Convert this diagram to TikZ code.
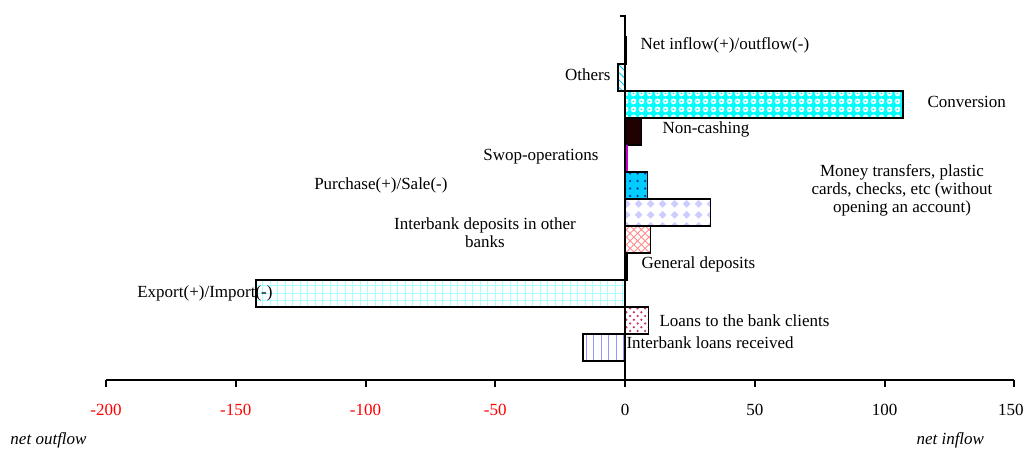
\documentclass[tikz,border=0pt]{standalone}
\usepackage{fontspec}
\setmainfont{Liberation Serif}
\usepackage{tikz}
\usetikzlibrary{patterns,patterns.meta}
\definecolor{stripeblue}{RGB}{0,204,255}
\definecolor{convcyan}{RGB}{0,255,255}
\definecolor{noncashbrown}{RGB}{32,0,0}
\definecolor{swopmagenta}{RGB}{204,0,204}
\definecolor{purchblue}{RGB}{0,204,255}
\definecolor{purchdot}{RGB}{0,51,153}
\definecolor{moneylav}{RGB}{204,204,255}
\definecolor{depored}{RGB}{255,140,140}
\definecolor{exportcyan}{RGB}{170,255,255}
\definecolor{loanspink}{RGB}{204,51,102}
\definecolor{iloanblue}{RGB}{150,150,255}
\definecolor{tickred}{RGB}{255,0,0}

\tikzdeclarepattern{
  name=diamonds,
  type=uncolored,
  bottom left={(0pt,0pt)},
  top right={(4.6pt,4.2pt)},
  tile size={(4.6pt,4.2pt)},
  code={\fill (2.3pt,0.5pt) -- (3.9pt,2.1pt) -- (2.3pt,3.7pt) -- (0.7pt,2.1pt) -- cycle;}
}
\tikzdeclarepattern{
  name=bubbles,
  type=uncolored,
  bottom left={(0pt,0pt)},
  top right={(3pt,3pt)},
  tile size={(3pt,3pt)},
  code={\fill[even odd rule] (1.5pt,1.5pt) circle (1.2pt) (1.5pt,1.5pt) circle (0.5pt);}
}

\tikzset{
  lbl/.style={font=\fontsize{6.8}{7.2}\selectfont, inner sep=0pt},
  bar/.style={draw=black, line width=0.45pt},
  axisline/.style={line width=0.8pt}
}

\begin{document}
\begin{tikzpicture}[x=0.4pt, y=-0.4pt]
  \useasboundingbox (0,0) rectangle (1025,451);

  % bars, value units along x
  \begin{scope}[shift={(625,0)}, x=1.038pt]
    \draw[bar, fill=black] (0,37) rectangle (0.4,64);
    \draw[bar, pattern=north west lines, pattern color=stripeblue] (-2.7,64) rectangle (0,91);
    \draw[bar, preaction={fill=convcyan}, pattern=bubbles, pattern color=white] (0,91) rectangle (107.1,118);
    \draw[bar, fill=noncashbrown] (0,118) rectangle (6.2,145);
    \fill[swopmagenta] (0,145) rectangle (1.0,172);
    \draw[bar, preaction={fill=purchblue}, pattern=dots, pattern color=purchdot] (0,172) rectangle (8.7,199);
    \draw[bar, pattern=diamonds, pattern color=moneylav] (0,199) rectangle (32.9,226);
    \draw[bar, pattern=crosshatch, pattern color=depored] (0,226) rectangle (9.8,253);
    \draw[bar, fill=black] (0,253) rectangle (1.1,280);
    \draw[bar, pattern=grid, pattern color=exportcyan] (-142.2,280) rectangle (0,307);
    \draw[bar, pattern=crosshatch dots, pattern color=loanspink] (0,307) rectangle (9.2,334);
    \draw[bar, pattern=vertical lines, pattern color=iloanblue] (-16.2,334) rectangle (0,361);
  \end{scope}

  % axes
  \draw[axisline] (620,16) -- (625,16) -- (625,380);
  \draw[axisline] (106,380) -- (1014,380);
  \foreach \v in {-200,-150,-100,-50,0,50,100,150}
    \draw[axisline] ({625+2.595*\v},380) -- ({625+2.595*\v},387);
  \foreach \v in {-200,-150,-100,-50}
    \node[lbl, text=tickred] (tick\v) at ({625+2.595*\v},410) {\v};
  \foreach \v in {0,50,100}
    \node[lbl] (tick\v) at ({625+2.595*\v},410) {\v};
  \node[lbl, anchor=east] (tick150) at (1024,410) {150};

  % labels
  \node[lbl, anchor=west] (netlbl) at (640,45) {Net inflow(+)/outflow(-)};
  \node[lbl, anchor=east] (otherslbl) at (611,75) {Others};
  \node[lbl, anchor=west] (convlbl) at (927,102) {Conversion};
  \node[lbl, anchor=west] (noncashlbl) at (662,129) {Non-cashing};
  \node[lbl, anchor=east] (swoplbl) at (599,157) {Swop-operations};
  \node[lbl, anchor=east] (purchlbl) at (448,185) {Purchase(+)/Sale(-)};
  \node[lbl, align=center] (moneylbl) at (902,190) {Money transfers, plastic\\cards, checks, etc (without\\opening an account)};
  \node[lbl, align=center] (depolbl) at (485,233) {Interbank deposits in other\\banks};
  \node[lbl, anchor=west] (genlbl) at (641,264) {General deposits};
  \node[lbl, anchor=east] (exportlbl) at (273,293) {Export(+)/Import(-)};
  \node[lbl, anchor=west] (loanslbl) at (659,321) {Loans to the bank clients};
  \node[lbl, anchor=west] (iloanlbl) at (626,343) {Interbank loans received};

  \node[lbl, anchor=west, font=\fontsize{6.8}{7.2}\selectfont\itshape] (outlbl) at (10,440) {net outflow};
  \node[lbl, anchor=west, font=\fontsize{6.8}{7.2}\selectfont\itshape] (inlbl) at (916,440) {net inflow};
\end{tikzpicture}
\end{document}
